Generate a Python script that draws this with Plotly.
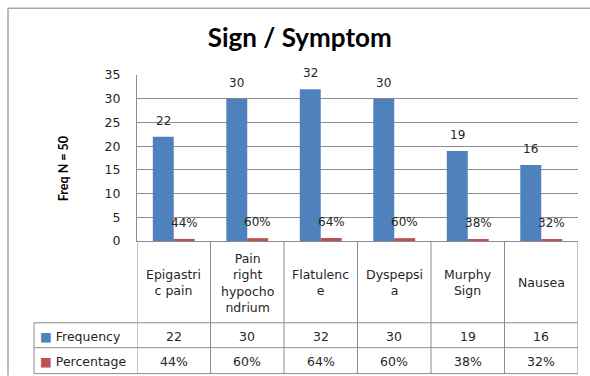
import plotly.graph_objects as go

categories = ["Epigastri<br>c pain", "Pain<br>right<br>hypocho<br>ndrium", "Flatulenc<br>e",
              "Dyspepsi<br>a", "Murphy<br>Sign", "Nausea"]
frequency = [22, 30, 32, 30, 19, 16]
percentage = [0.44, 0.60, 0.64, 0.60, 0.38, 0.32]
pct_labels = ["44%", "60%", "64%", "60%", "38%", "32%"]
y_ticks = [0, 5, 10, 15, 20, 25, 30, 35]

BLUE = "#4F81BD"
RED = "#C0504D"
GRID = "#8c8c8c"
FONT = "DejaVu Sans"
TFONT = "Lato"
TXT = "#262626"

W, H = 590, 376
L, R, T, B = 137, 12, 74.5, 135
pw, ph = W - L - R, H - T - B


def px_to_py(py):
    return (H - B - py) / ph


def px_to_px(px):
    return (px - L) / pw


xs = list(range(len(categories)))

fig = go.Figure()
fig.add_bar(x=xs, y=frequency, name="Frequency", marker_color=BLUE, marker_line_width=0)
fig.add_bar(x=xs, y=percentage, name="Percentage", marker_color=RED, marker_line_width=0)

ann = []
shapes = []
half = pw / len(categories) * 0.285 / 2

for i in xs:
    ann.append(dict(x=i, y=frequency[i], xref="x", yref="y", text=str(frequency[i]),
                    showarrow=False, xshift=-half, yshift=16, yanchor="middle",
                    font=dict(family=FONT, size=12, color=TXT)))
    ann.append(dict(x=i, y=percentage[i], xref="x", yref="y", text=pct_labels[i],
                    showarrow=False, xshift=half, yshift=16, yanchor="middle",
                    font=dict(family=FONT, size=12, color=TXT)))
    # table cells
    ann.append(dict(x=i, y=px_to_py(283), xref="x", yref="paper", text=categories[i],
                    showarrow=False, yanchor="middle",
                    font=dict(family=FONT, size=12.5, color=TXT)))
    ann.append(dict(x=i, y=px_to_py(336.5), xref="x", yref="paper", text=str(frequency[i]),
                    showarrow=False, yanchor="middle",
                    font=dict(family=FONT, size=12.5, color=TXT)))
    ann.append(dict(x=i, y=px_to_py(361.5), xref="x", yref="paper", text=pct_labels[i],
                    showarrow=False, yanchor="middle",
                    font=dict(family=FONT, size=12.5, color=TXT)))

ann.append(dict(x=px_to_px(38), y=px_to_py(336.5), xref="paper", yref="paper",
                text=f"<span style='color:{BLUE}'>■</span> Frequency", showarrow=False,
                xanchor="left", yanchor="middle", font=dict(family=FONT, size=12.5, color=TXT)))
ann.append(dict(x=px_to_px(38), y=px_to_py(361.5), xref="paper", yref="paper",
                text=f"<span style='color:{RED}'>■</span> Percentage", showarrow=False,
                xanchor="left", yanchor="middle", font=dict(family=FONT, size=12.5, color=TXT)))

ann.append(dict(x=px_to_px(63), y=px_to_py(169), xref="paper", yref="paper",
                text="<b>Freq N = 50</b>",
                showarrow=False, textangle=-90, xanchor="center", yanchor="middle",
                font=dict(family=TFONT, size=12.5, color="#000000")))

line = dict(color=GRID, width=1)
# vertical table lines at category boundaries
for k in range(len(categories) + 1):
    shapes.append(dict(type="line", xref="x", yref="paper", x0=k - 0.5, x1=k - 0.5,
                       y0=0, y1=px_to_py(374), line=line))
# horizontal table lines
for py in (323, 348, 374):
    shapes.append(dict(type="line", xref="paper", yref="paper", x0=px_to_px(34), x1=1,
                       y0=px_to_py(py), y1=px_to_py(py), line=line))
shapes.append(dict(type="line", xref="paper", yref="paper", x0=px_to_px(34), x1=px_to_px(34),
                   y0=px_to_py(323), y1=px_to_py(374), line=line))
# outer chart frame (runs off the right and bottom edges)
frame = dict(color="#a6a6a6", width=1.5)
shapes.append(dict(type="line", xref="paper", yref="paper", x0=px_to_px(8), x1=px_to_px(590),
                   y0=px_to_py(7.5), y1=px_to_py(7.5), line=frame))
shapes.append(dict(type="line", xref="paper", yref="paper", x0=px_to_px(8), x1=px_to_px(8),
                   y0=px_to_py(7.5), y1=px_to_py(376), line=frame))

fig.update_layout(
    width=W, height=H,
    margin=dict(l=L, r=R, t=T, b=B),
    paper_bgcolor="white", plot_bgcolor="white",
    barmode="group", bargap=0.43, bargroupgap=0,
    showlegend=False,
    title=dict(text="<b>Sign / Symptom</b>", x=0.508, xanchor="center", y=1 - 38 / H,
               yanchor="middle", font=dict(family=TFONT, size=26, color="#000000")),
    xaxis=dict(range=[-0.5, len(categories) - 0.5], showticklabels=False, showgrid=False,
               showline=True, linecolor=GRID, linewidth=1, zeroline=False, fixedrange=True),
    yaxis=dict(range=[0, 35], tickvals=y_ticks, showgrid=True, gridcolor=GRID, gridwidth=1,
               showline=True, linecolor=GRID, linewidth=1, zeroline=False, ticks="",
               ticklabelstandoff=13,
               tickfont=dict(family=FONT, size=12.5, color=TXT)),
    annotations=ann, shapes=shapes,
)

fig.write_html("out.html")
